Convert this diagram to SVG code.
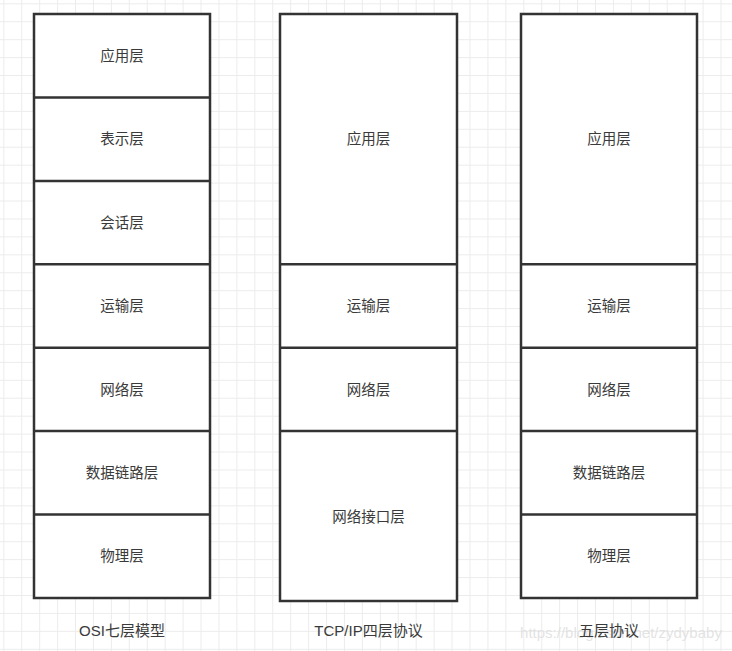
<svg xmlns="http://www.w3.org/2000/svg" width="732" height="651" viewBox="0 0 732 651">
  <defs>
    <pattern id="grid" patternUnits="userSpaceOnUse" x="3.3" y="3.3" width="17.93" height="17.93">
      <path d="M0 0.5H17.93M0.5 0V17.93" fill="none" stroke="#ececec" stroke-width="1"/>
    </pattern>
    <style>
      .box { fill: #ffffff; stroke: #333333; stroke-width: 2.5; }
      .div { stroke: #333333; stroke-width: 2.5; fill: none; }
      .t { font-family: "Noto Sans CJK SC", "Liberation Sans", sans-serif; font-size: 14.5px; fill: #3a3a3a; text-anchor: middle; dominant-baseline: central; }
      .cap { font-family: "Liberation Sans", "Noto Sans CJK SC", sans-serif; font-size: 15px; fill: #3a3a3a; text-anchor: middle; dominant-baseline: central; }
      .wm { font-family: "Liberation Sans", sans-serif; font-size: 15px; fill: #dcdcdc; fill-opacity: 0.8; text-anchor: middle; dominant-baseline: central; }
    </style>
  </defs>
  <rect width="732" height="651" fill="#ffffff"/>
  <rect width="732" height="651" fill="url(#grid)"/>

  <g id="osi">
    <rect class="box" x="34" y="14" width="176" height="584"/>
    <path class="div" d="M34 97.4H210M34 180.9H210M34 264.3H210M34 347.7H210M34 431.1H210M34 514.6H210"/>
    <text class="t" x="122" y="54.5">应用层</text>
    <text class="t" x="122" y="137.5">表示层</text>
    <text class="t" x="122" y="221">会话层</text>
    <text class="t" x="122" y="304.5">运输层</text>
    <text class="t" x="122" y="388">网络层</text>
    <text class="t" x="122" y="471.5">数据链路层</text>
    <text class="t" x="122" y="554.5">物理层</text>
  </g>

  <g id="tcpip">
    <rect class="box" x="280" y="14" width="177" height="587"/>
    <path class="div" d="M280 264.3H457M280 347.7H457M280 431.1H457"/>
    <text class="t" x="368.5" y="137.5">应用层</text>
    <text class="t" x="368.5" y="304.5">运输层</text>
    <text class="t" x="368.5" y="388">网络层</text>
    <text class="t" x="368.5" y="515.5">网络接口层</text>
  </g>

  <g id="five">
    <rect class="box" x="521" y="14" width="176" height="584"/>
    <path class="div" d="M521 264.3H697M521 347.7H697M521 431.1H697M521 514.6H697"/>
    <text class="t" x="609" y="137.5">应用层</text>
    <text class="t" x="609" y="304.5">运输层</text>
    <text class="t" x="609" y="388">网络层</text>
    <text class="t" x="609" y="471.5">数据链路层</text>
    <text class="t" x="609" y="554.5">物理层</text>
  </g>

  <g id="captions">
    <text class="cap" x="122" y="630.5">OSI七层模型</text>
    <text class="cap" x="368.5" y="630.5">TCP/IP四层协议</text>
    <text class="wm" x="621" y="632">https://blog.csdn.net/zydybaby</text>
    <text class="cap" x="609" y="630.5">五层协议</text>
  </g>
</svg>
